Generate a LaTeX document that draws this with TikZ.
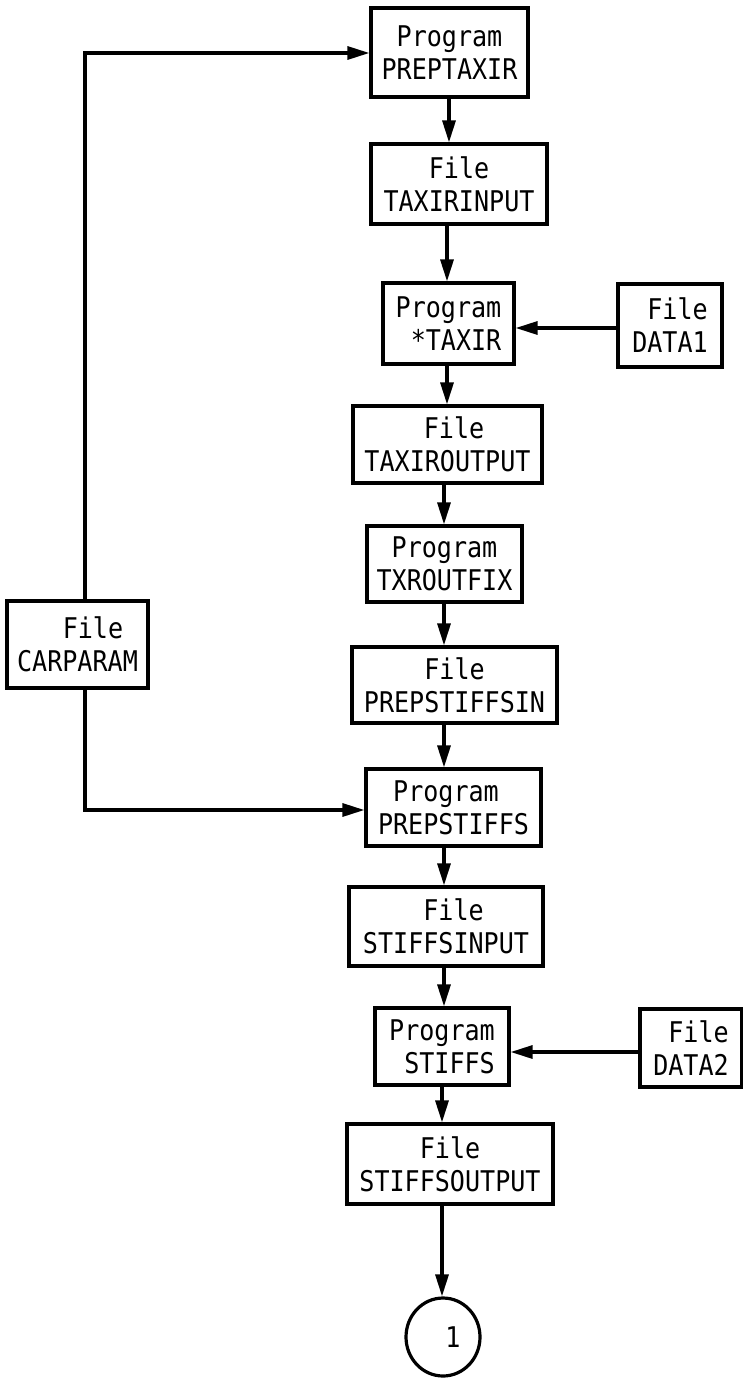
\documentclass[tikz,border=0pt]{standalone}
\usepackage{fontspec}
\newfontfamily\diagfont[FakeStretch=0.88]{DejaVu Sans Mono}
\usetikzlibrary{arrows.meta,shapes.geometric}
\begin{document}
\begin{tikzpicture}[x=1pt,y=-1pt,
  box/.style={draw,line width=3.2pt,inner sep=0pt,align=center,
    font=\diagfont\fontsize{28.5}{33}\selectfont},
  rbox/.style={box,align=right},
  arr/.style={line width=3.2pt,-{Triangle[length=22pt,width=13pt]}},
  ln/.style={line width=3.2pt}
]
\useasboundingbox (0,0) rectangle (743,1378);

% main column
\node[box,minimum width=157pt,minimum height=89pt] (prep) at (449.5,52.5) {Program\\PREPTAXIR};
\node[box,minimum width=176pt,minimum height=80pt] (tin) at (459,184) {File\\TAXIRINPUT};
\node[rbox,minimum width=131pt,minimum height=81pt] (taxir) at (448.5,323.5) {Program\\*TAXIR};
\node[rbox,minimum width=104pt,minimum height=83pt] (data1) at (670,325.5) {File\\DATA1};
\node[box,minimum width=189pt,minimum height=77pt] (tout) at (447.5,444.5) {\hspace*{13pt}File\\TAXIROUTPUT};
\node[box,minimum width=155pt,minimum height=76pt] (fix) at (444.5,564) {Program\\TXROUTFIX};
\node[box,minimum width=205pt,minimum height=76pt] (psin) at (454.5,685) {File\\PREPSTIFFSIN};
\node[box,minimum width=141pt,minimum height=87pt] (carp) at (77.5,644.5) {\hspace*{31pt}File\\CARPARAM};
\node[box,minimum width=175pt,minimum height=77pt] (pstf) at (453.5,807.5) {Program\hspace*{15pt}\\PREPSTIFFS};
\node[box,minimum width=194pt,minimum height=79pt] (sin) at (446,926.5) {\hspace*{15pt}File\\STIFFSINPUT};
\node[rbox,minimum width=134pt,minimum height=77pt] (stf) at (442,1046.5) {Program\\STIFFS};
\node[rbox,minimum width=102pt,minimum height=78pt] (data2) at (691,1048) {File\\DATA2};
\node[box,minimum width=206pt,minimum height=80pt] (sout) at (450,1164) {File\\STIFFSOUTPUT};
\node[box,shape=ellipse,minimum width=74pt,minimum height=78pt] (one) at (443,1337) {\hspace*{20pt}1};

% column coordinates
\coordinate (ca) at (449,0);
\coordinate (cb) at (447,0);
\coordinate (cc) at (444,0);
\coordinate (cd) at (442,0);
\coordinate (L) at (85,0);
\coordinate (r1) at (0,328);
\coordinate (r2) at (0,1052);
\coordinate (t1) at (0,53);
\coordinate (t2) at (0,810);

% vertical flow
\draw[arr] (prep.south -| ca) -- (tin.north -| ca);
\draw[arr] (tin.south -| cb) -- (taxir.north -| cb);
\draw[arr] (taxir.south -| cb) -- (tout.north -| cb);
\draw[arr] (tout.south -| cc) -- (fix.north -| cc);
\draw[arr] (fix.south -| cc) -- (psin.north -| cc);
\draw[arr] (psin.south -| cc) -- (pstf.north -| cc);
\draw[arr] (pstf.south -| cc) -- (sin.north -| cc);
\draw[arr] (sin.south -| cc) -- (stf.north -| cc);
\draw[arr] (stf.south -| cd) -- (sout.north -| cd);
\draw[arr] (sout.south -| cd) -- (one.north -| cd);

% side inputs
\draw[arr] (data1.west |- r1) -- (taxir.east |- r1);
\draw[arr] (data2.west |- r2) -- (stf.east |- r2);

% CARPARAM feeds
\draw[arr] (carp.north -| L) |- (prep.west |- t1);
\draw[arr] (carp.south -| L) |- (pstf.west |- t2);
\end{tikzpicture}
\end{document}
